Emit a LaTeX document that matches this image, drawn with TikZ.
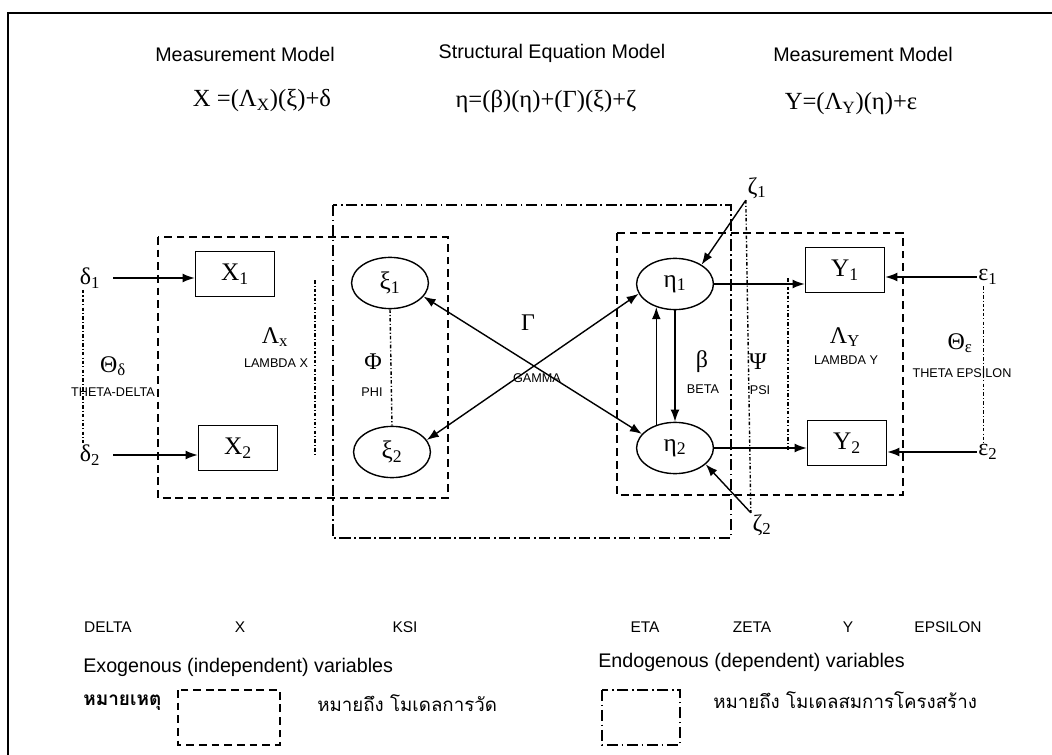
\documentclass[tikz,border=0pt]{standalone}
\usepackage{fontspec}
\setmainfont{Liberation Serif}
\setsansfont{Liberation Sans}
\newfontfamily\thaifont[Script=Thai]{Loma}
\usetikzlibrary{shapes.geometric, arrows.meta, positioning}

\begin{document}
\begin{tikzpicture}[
    x=0.025cm, y=-0.025cm,
    head/.style={font=\sffamily\fontsize{14}{16}\selectfont},
    eqn/.style={font=\fontsize{17.5}{19}\selectfont},
    greek/.style={font=\fontsize{17}{19}\selectfont, inner sep=1pt},
    tiny/.style={font=\sffamily\fontsize{9}{10}\selectfont, inner sep=1pt},
    lbl/.style={font=\sffamily\fontsize{11}{13}\selectfont},
    thai/.style={font=\thaifont\fontsize{13.3}{15}\selectfont},
    obs/.style={rectangle, draw, line width=1pt, minimum width=1.98cm, minimum height=1.12cm, font=\fontsize{18}{20}\selectfont},
    latent/.style={ellipse, draw, line width=1pt, minimum width=1.92cm, minimum height=1.28cm, inner sep=0pt, font=\fontsize{18}{20}\selectfont},
    arr/.style={-{Latex[length=3mm, width=2.2mm]}, line width=1pt},
    darr/.style={{Latex[length=3mm, width=2.2mm]}-{Latex[length=3mm, width=2.2mm]}, line width=1pt},
    mbox/.style={line width=1.3pt, dash pattern=on 5.5pt off 3.5pt},
    sbox/.style={line width=1.1pt, dash pattern=on 8pt off 2.5pt on 1.2pt off 2.5pt},
    corr/.style={line width=1pt, dash pattern=on 2.5pt off 1.5pt on 0.8pt off 1.5pt},
]
\useasboundingbox (0,0) rectangle (1052,755);

% frame
\draw[line width=1.3pt] (8,755) -- (8,13) -- (1052,13);

% headings and equations
\node[head] (mmx) at (245,54) {Measurement Model};
\node[head] (sem) at (552,53) {Structural Equation Model};
\node[head] (mmy) at (863,54) {Measurement Model};
\node[eqn] (eqx) at (262,101) {X =(Λ\textsubscript{X})(ξ)+δ};
\node[eqn] (eqs) at (546,101) {η=(β)(η)+(Γ)(ξ)+ζ};
\node[eqn] (eqy) at (851,104) {Y=(Λ\textsubscript{Y})(η)+ε};

% model boxes
\draw[mbox] (158,237) rectangle (448,498);
\draw[mbox] (617,233) rectangle (903,495);
\draw[sbox] (333,205) rectangle (731,538);

% exogenous side
\node[greek] (d1) at (90,278) {δ\textsubscript{1}};
\node[greek] (d2) at (90,455) {δ\textsubscript{2}};
\node[obs] (x1) at (235,274) {X\textsubscript{1}};
\node[obs] (x2) at (238,448) {X\textsubscript{2}};
\node[latent] (ksi1) at (390,283) {ξ\textsubscript{1}};
\node[latent] (ksi2) at (392,452) {ξ\textsubscript{2}};

% endogenous side
\node[latent] (eta1) at (675,284) {η\textsubscript{1}};
\node[latent] (eta2) at (675,448) {η\textsubscript{2}};
\node[obs] (y1) at (845,270) {Y\textsubscript{1}};
\node[obs] (y2) at (847,443) {Y\textsubscript{2}};
\node[greek] (e1) at (988,277) {ε\textsubscript{1}};
\node[greek] (e2) at (988,452) {ε\textsubscript{2}};
\node[greek] (z1) at (757,188) {ζ\textsubscript{1}};
\node[greek] (z2) at (762,525) {ζ\textsubscript{2}};

% parameter labels
\node[greek] (thd) at (113,366) {Θ\textsubscript{δ}};
\node[tiny] at (113,392) {THETA-DELTA};
\node[greek] (lamx) at (275,337) {Λ\textsubscript{x}};
\node[tiny] at (276,363) {LAMBDA X};
\node[greek] (phi) at (373,362) {Φ};
\node[tiny] at (372,392) {PHI};
\node[greek] (gam) at (528,323) {Γ};
\node[tiny] at (537,378) {GAMMA};
\node[greek] (bet) at (702,362) {β};
\node[tiny] at (703,389) {BETA};
\node[greek] (psi) at (758,362) {Ψ};
\node[tiny] at (760,390) {PSI};
\node[greek] (lamy) at (845,337) {Λ\textsubscript{Y}};
\node[tiny] at (846,360) {LAMBDA Y};
\node[greek] (the) at (960,343) {Θ\textsubscript{ε}};
\node[tiny] at (962,373) {THETA EPSILON};

% arrows
\draw[arr, shorten <=8pt] (d1.east) -- (d1.east -| x1.west);
\draw[arr, shorten <=8pt] (d2.east) -- (d2.east -| x2.west);
\draw[darr] (ksi1.-22) -- (eta2.157);
\draw[darr] (ksi2.19) -- (eta1.195);
\draw[arr] (eta1.south) -- (eta2.north);
\draw[arr] (eta2.129) -- (eta1.231);
\draw[arr] (eta1.east) -- (eta1.east -| y1.west);
\draw[arr] (eta2.east) -- (eta2.east -| y2.west);
\draw[arr] (e1.west) -- (e1.west -| y1.east);
\draw[arr] (e2.west) -- (e2.west -| y2.east);
\draw[arr] (z1.south west) -- (eta1.36);
\draw[arr] (z2.north west) -- (eta2.-28);

% correlations
\draw[corr] ([xshift=-5pt]d1.south) -- ([xshift=-5pt]d2.north);
\draw[corr] (ksi1.south) -- (ksi2.north);
\draw[corr] (z1.south west) -- (z2.north west);
\draw[corr] ([xshift=-3pt]e1.south) -- ([xshift=-3pt]e2.north);
\draw[corr] (315,280) -- (315,455);
\draw[corr] (788,278) -- (788,450);

% legend
\node[lbl] (tdel) at (108,627) {DELTA};
\node[lbl] (tx) at (240,627) {X};
\node[lbl] (tksi) at (405,627) {KSI};
\node[lbl] (teta) at (645,627) {ETA};
\node[lbl] (tzet) at (752,627) {ZETA};
\node[lbl] (ty) at (848,627) {Y};
\node[lbl] (teps) at (948,627) {EPSILON};
\node[head, anchor=west, inner sep=0pt] (exo) at (83,667) {Exogenous (independent) variables};
\node[head, anchor=west, inner sep=0pt] (endo) at (598,662) {Endogenous (dependent) variables};
\node[thai, anchor=west, inner sep=0pt, font=\thaifont\bfseries\fontsize{13.5}{15}\selectfont] (note) at (83,703) {หมายเหตุ};
\draw[mbox, line width=1pt] (178,690) rectangle (280,745);
\node[thai, anchor=west, inner sep=0pt] (mmean) at (317,703) {หมายถึง โมเดลการวัด};
\draw[sbox, line width=1pt] (602,690) rectangle (680,745);
\node[thai, anchor=west, inner sep=0pt] (smean) at (713,700) {หมายถึง โมเดลสมการโครงสร้าง};

\end{tikzpicture}
\end{document}
